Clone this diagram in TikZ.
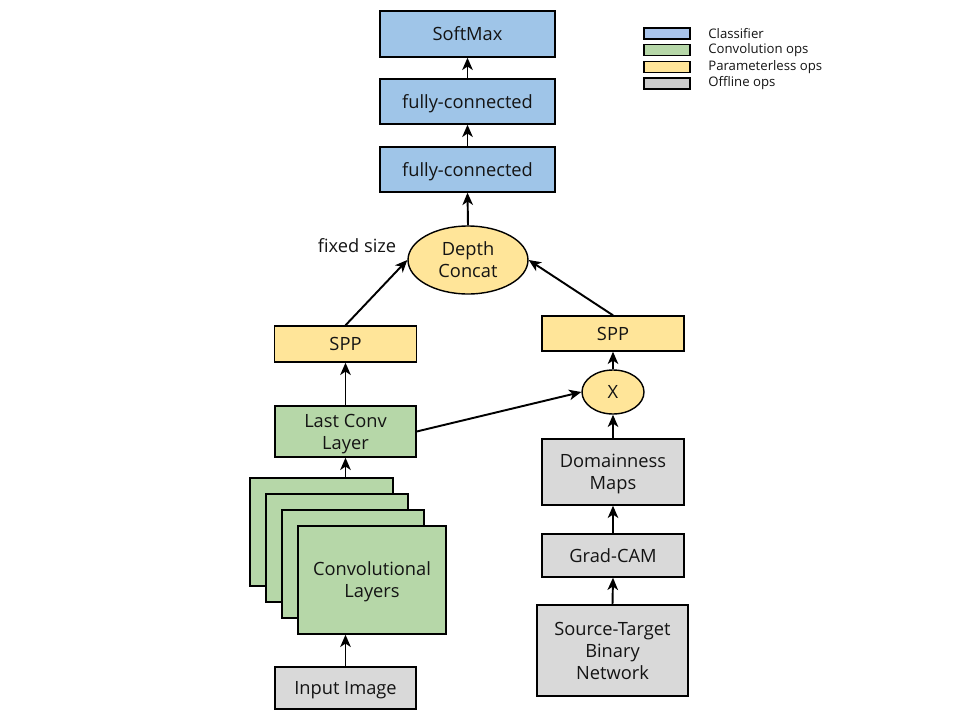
\documentclass[tikz,border=0pt]{standalone}
\usepackage{fontspec}
\setmainfont{Open Sans}
\usetikzlibrary{arrows.meta,shapes.geometric}
\definecolor{cblue}{HTML}{9FC5E8}
\definecolor{lblue}{HTML}{A9C4EB}
\definecolor{cgreen}{HTML}{B6D7A8}
\definecolor{cyellow}{HTML}{FFE599}
\definecolor{cgray}{HTML}{D9D9D9}
\definecolor{lgray}{HTML}{CCCCCC}
\tikzset{
  box/.style={draw=black, line width=0.8pt, rectangle, align=center, inner sep=0pt,
    font=\fontsize{10.4}{12.5}\selectfont, text=black!92, text depth=0pt},
  blue box/.style={box, fill=cblue},
  green box/.style={box, fill=cgreen},
  yellow box/.style={box, fill=cyellow},
  gray box/.style={box, fill=cgray},
  oval/.style={box, ellipse, fill=cyellow},
  conn/.style={line width=1.1pt, -{Stealth[length=7pt,width=6pt,inset=2pt]}},
  legbox/.style={draw=black, line width=0.8pt, minimum width=0.92cm, minimum height=0.22cm, inner sep=0pt},
  legtext/.style={anchor=west, font=\fontsize{7.5}{9}\selectfont, text=black!92, inner sep=0pt}
}
\begin{document}
\begin{tikzpicture}[x=0.02cm,y=-0.02cm]
\useasboundingbox (0,0) rectangle (960,720);
% classifier
\node[blue box, minimum width=3.5cm, minimum height=0.92cm] (soft) at (467.5,34) {SoftMax};
\node[blue box, minimum width=3.5cm, minimum height=0.9cm] (fc1) at (467.5,101.5) {fully-connected};
\node[blue box, minimum width=3.5cm, minimum height=0.9cm] (fc2) at (467.5,169.5) {fully-connected};
% depth concat
\node[oval, minimum width=2.4cm, minimum height=1.36cm] (dc) at (468,260) {Depth\\Concat};
\node[font=\fontsize{10.4}{12.5}\selectfont, text=black!92, inner sep=0pt] (fs) at (357,246) {fixed size};
% left branch
\node[yellow box, minimum width=2.84cm, minimum height=0.72cm] (sppL) at (345.5,344) {SPP};
\node[green box, minimum width=2.82cm, minimum height=1.02cm] (last) at (345.5,431.5) {Last Conv\\Layer};
\node[green box, minimum width=2.86cm, minimum height=2.16cm] (c1) at (321.5,532) {};
\node[green box, minimum width=2.84cm, minimum height=2.16cm] (c2) at (337,548) {};
\node[green box, minimum width=2.84cm, minimum height=2.16cm] (c3) at (353,564) {};
\node[green box, minimum width=2.96cm, minimum height=2.16cm] (c4) at (372,580) {Convolutional\\Layers};
\node[gray box, minimum width=2.82cm, minimum height=0.84cm] (input) at (345.5,688) {Input Image};
% right branch
\node[yellow box, minimum width=2.84cm, minimum height=0.7cm] (sppR) at (613,333.5) {SPP};
\node[oval, minimum width=1.24cm, minimum height=0.88cm] (X) at (613,392) {X};
\node[gray box, minimum width=2.84cm, minimum height=1.32cm] (dom) at (613,472) {Domainness\\Maps};
\node[gray box, minimum width=2.84cm, minimum height=0.86cm] (grad) at (613,555.5) {Grad-CAM};
\node[gray box, minimum width=3.02cm, minimum height=1.82cm] (src) at (612.5,650.5) {Source-Target\\Binary\\Network};
% connectors
\draw[conn] (fc1.north) -- (soft.south);
\draw[conn] (fc2.north) -- (fc1.south);
\draw[conn] (dc.north) -- (fc2.south);
\draw[conn] (sppL.north) -- (dc.west);
\draw[conn] (sppR.north) -- (dc.east);
\draw[conn] (last.north) -- (sppL.south);
\draw[conn] (last.south |- c1.north) -- (last.south);
\draw[conn] (input.north) -- (input.north |- c4.south);
\draw[conn] (last.east) -- (X.west);
\draw[conn] (X.north) -- (sppR.south);
\draw[conn] (dom.north) -- (X.south);
\draw[conn] (grad.north) -- (dom.south);
\draw[conn] (src.north) -- (grad.south);
% legend
\node[legbox, fill=lblue] (l1) at (667,33.5) {};
\node[legbox, fill=cgreen] (l2) at (667,50) {};
\node[legbox, fill=cyellow] (l3) at (667,67) {};
\node[legbox, fill=lgray] (l4) at (667,83.5) {};
\node[legtext] (t1) at (708,33.5) {Classifier};
\node[legtext] (t2) at (708,50) {Convolution ops};
\node[legtext] (t3) at (708,67) {Parameterless ops};
\node[legtext] (t4) at (708,83.5) {Offline ops};
\end{tikzpicture}
\end{document}
